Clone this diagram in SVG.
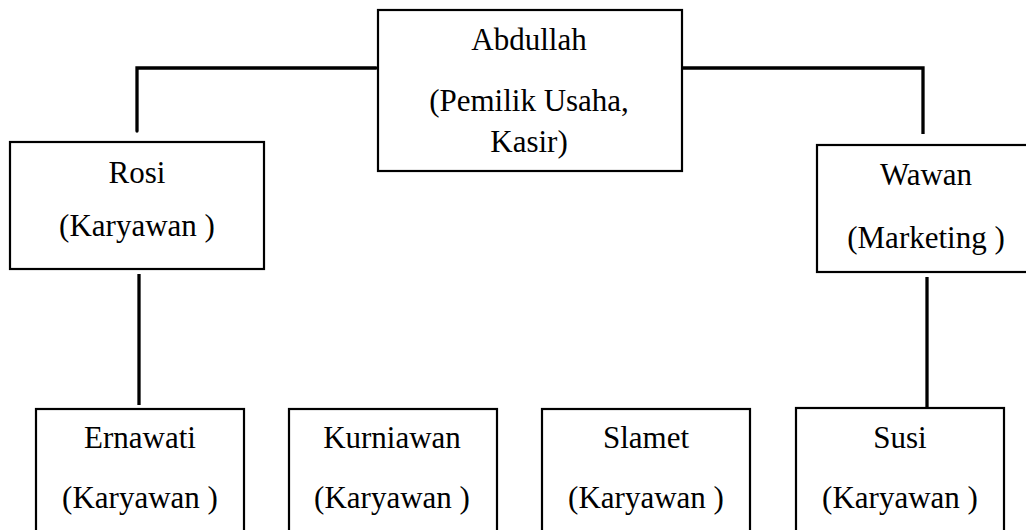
<svg xmlns="http://www.w3.org/2000/svg" width="1026" height="530" viewBox="0 0 1026 530">
<style>
.box{fill:#fff;stroke:#000;stroke-width:2.2}
.t{font-family:'Liberation Serif','Times New Roman',serif;font-size:31px;fill:#000;text-anchor:middle}
.c{stroke:#000;stroke-width:3.3;fill:none}
</style>
<rect width="1026" height="530" fill="#fff"/>
<g id="connectors">
<path class="c" d="M376 68 H137 V131" stroke-linecap="round"/>
<path class="c" d="M682 68 H923 V134"/>
<path class="c" d="M139 274 V405"/>
<path class="c" d="M927 277 V407"/>
</g>
<g id="abdullah">
<rect class="box" x="378" y="10" width="304" height="161"/>
<text class="t" x="529" y="50">Abdullah</text>
<text class="t" x="529" y="111">(Pemilik Usaha,</text>
<text class="t" x="529" y="152">Kasir)</text>
</g>
<g id="rosi">
<rect class="box" x="10" y="142" width="254" height="127"/>
<text class="t" x="137" y="183">Rosi</text>
<text class="t" x="137" y="236">(Karyawan )</text>
</g>
<g id="wawan">
<rect class="box" x="817" y="145" width="220" height="127"/>
<text class="t" x="926" y="185">Wawan</text>
<text class="t" x="926" y="248">(Marketing )</text>
</g>
<g id="ernawati">
<rect class="box" x="36" y="409" width="208" height="140"/>
<text class="t" x="140" y="448">Ernawati</text>
<text class="t" x="140" y="508">(Karyawan )</text>
</g>
<g id="kurniawan">
<rect class="box" x="289" y="409" width="208" height="140"/>
<text class="t" x="392" y="448">Kurniawan</text>
<text class="t" x="392" y="508">(Karyawan )</text>
</g>
<g id="slamet">
<rect class="box" x="542" y="409" width="208" height="140"/>
<text class="t" x="646" y="448">Slamet</text>
<text class="t" x="646" y="508">(Karyawan )</text>
</g>
<g id="susi">
<rect class="box" x="796" y="408" width="208" height="140"/>
<text class="t" x="900" y="448">Susi</text>
<text class="t" x="900" y="508">(Karyawan )</text>
</g>
</svg>
